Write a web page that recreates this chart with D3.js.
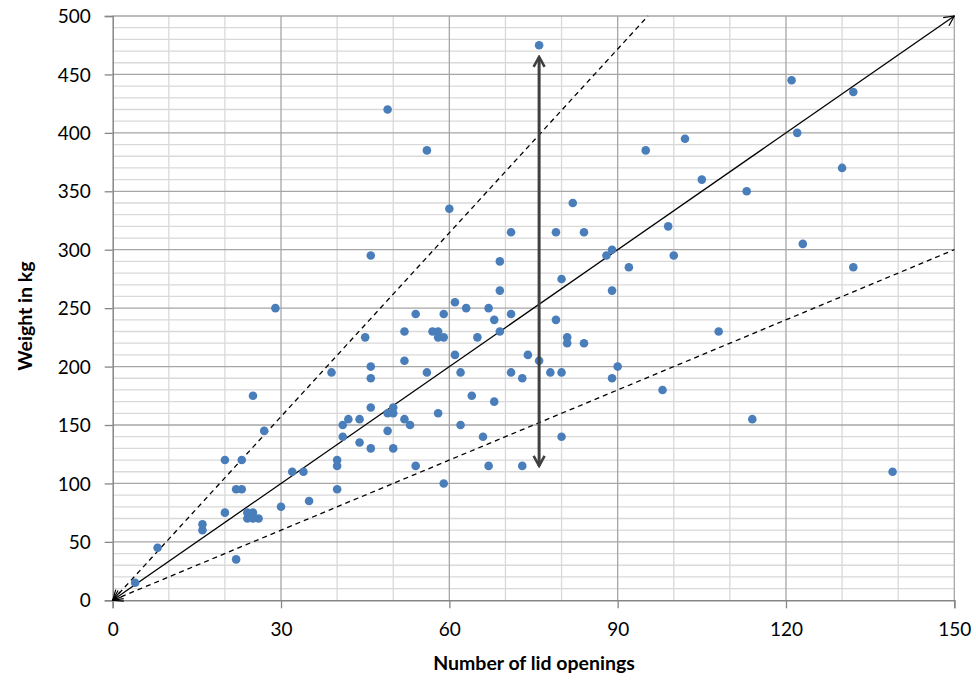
<!DOCTYPE html>
<html>
<head>
<meta charset="utf-8">
<script src="https://cdn.jsdelivr.net/npm/d3@7"></script>
<style>
  body { margin: 0; background: #fff; }
  text { font-family: Lato, "Open Sans", sans-serif; }
</style>
</head>
<body>
<svg id="chart" width="976" height="680"></svg>
<script>
// lid openings vs weight, one entry per dot
var openings = [4, 8, 16, 16, 20, 20, 22, 22, 23, 23, 24, 25, 24, 25, 26, 25, 27, 29, 30, 32,
  34, 35, 39, 40, 40, 40, 41, 41, 42, 44, 44, 45, 46, 46, 46, 46, 46, 49, 49, 49,
  50, 50, 50, 52, 52, 52, 53, 54, 54, 56, 56, 57, 58, 58, 58, 59, 59, 59, 60, 61,
  61, 62, 62, 63, 64, 65, 66, 67, 67, 68, 68, 69, 69, 69, 71, 71, 71, 73, 73, 74,
  76, 76, 78, 79, 79, 80, 80, 80, 81, 81, 82, 84, 84, 88, 89, 89, 89, 90, 92, 95,
  98, 99, 100, 102, 105, 108, 113, 114, 121, 122, 123, 130, 132, 132, 139]
var weights = [15, 45, 65, 60, 120, 75, 35, 95, 95, 120, 75, 75, 70, 70, 70, 175, 145, 250, 80, 110,
  110, 85, 195, 120, 115, 95, 150, 140, 155, 155, 135, 225, 200, 190, 165, 130, 295, 160, 145, 420,
  165, 160, 130, 230, 205, 155, 150, 245, 115, 195, 385, 230, 230, 225, 160, 245, 225, 100, 335, 255,
  210, 195, 150, 250, 175, 225, 140, 250, 115, 240, 170, 290, 265, 230, 315, 245, 195, 190, 115, 210,
  475, 205, 195, 315, 240, 275, 195, 140, 225, 220, 340, 315, 220, 295, 300, 265, 190, 200, 285, 385,
  180, 320, 295, 395, 360, 230, 350, 155, 445, 400, 305, 370, 435, 285, 110]

// reference lines through the origin: [x end, y end]
var midLine = [150, 500]
var upperLine = [95.4, 500]
var lowerLine = [150, 300]
// spread arrow
var spreadX = 76
var spreadRange = [115, 465]

var xTicks = [0, 30, 60, 90, 120, 150]
var yTicks = [0, 50, 100, 150, 200, 250, 300, 350, 400, 450, 500]

var dimensions = {
  width: 976,
  height: 680,
  margin: { top: 16, bottom: 79.7, right: 21.7, left: 112.7 }
}
dimensions.boundedWidth = dimensions.width - dimensions.margin.left - dimensions.margin.right
dimensions.boundedHeight = dimensions.height - dimensions.margin.top - dimensions.margin.bottom

var svg = d3.select("#chart")

var defs = svg.append("defs")
defs.append("marker")
  .attr("id", "open-arrow")
  .attr("viewBox", "0 0 12 12")
  .attr("refX", 11).attr("refY", 6)
  .attr("markerWidth", 12).attr("markerHeight", 12)
  .attr("markerUnits", "userSpaceOnUse")
  .attr("orient", "auto-start-reverse")
  .append("path")
  .attr("d", "M1,1 L11,6 L1,11")
  .attr("fill", "none").attr("stroke", "#000").attr("stroke-width", 1.2)
defs.append("marker")
  .attr("id", "thick-arrow")
  .attr("viewBox", "0 0 14 14")
  .attr("refX", 12).attr("refY", 7)
  .attr("markerWidth", 14).attr("markerHeight", 14)
  .attr("markerUnits", "userSpaceOnUse")
  .attr("orient", "auto-start-reverse")
  .append("path")
  .attr("d", "M2,1.5 L12,7 L2,12.5")
  .attr("fill", "none").attr("stroke", "#404040").attr("stroke-width", 2.6)

var bounds = svg.append("g")
  .attr("transform", "translate(" + dimensions.margin.left + "," + dimensions.margin.top + ")")

var xScale = d3.scaleLinear().domain([0, 150]).range([0, dimensions.boundedWidth])
var yScale = d3.scaleLinear().domain([0, 500]).range([dimensions.boundedHeight, 0])

// minor gridlines
bounds.append("g")
  .selectAll("line")
  .data(d3.range(10, 500, 10).filter(function(d) { return d % 50 != 0 }))
  .join("line")
  .attr("x1", 0).attr("x2", dimensions.boundedWidth)
  .attr("y1", function(d) { return yScale(d) }).attr("y2", function(d) { return yScale(d) })
  .attr("stroke", "#d9d9d9").attr("stroke-width", 1.3)
bounds.append("g")
  .selectAll("line")
  .data(d3.range(10, 150, 10).filter(function(d) { return d % 30 != 0 }))
  .join("line")
  .attr("y1", 0).attr("y2", dimensions.boundedHeight)
  .attr("x1", function(d) { return xScale(d) }).attr("x2", function(d) { return xScale(d) })
  .attr("stroke", "#d9d9d9").attr("stroke-width", 1.3)

// major gridlines
bounds.append("g")
  .selectAll("line")
  .data(yTicks.slice(1))
  .join("line")
  .attr("x1", 0).attr("x2", dimensions.boundedWidth)
  .attr("y1", function(d) { return yScale(d) }).attr("y2", function(d) { return yScale(d) })
  .attr("stroke", "#a6a6a6").attr("stroke-width", 1.3)
bounds.append("g")
  .selectAll("line")
  .data(xTicks.slice(1))
  .join("line")
  .attr("y1", 0).attr("y2", dimensions.boundedHeight)
  .attr("x1", function(d) { return xScale(d) }).attr("x2", function(d) { return xScale(d) })
  .attr("stroke", "#a6a6a6").attr("stroke-width", 1.3)

// axes
var xAxis = bounds.append("g")
  .attr("transform", "translate(0," + dimensions.boundedHeight + ")")
  .call(d3.axisBottom(xScale).tickValues(xTicks).tickSize(8).tickPadding(14))
var yAxis = bounds.append("g")
  .call(d3.axisLeft(yScale).tickValues(yTicks).tickSize(8).tickPadding(14))
;[xAxis, yAxis].forEach(function(a) {
  a.select(".domain").attr("stroke", "#868686").attr("stroke-width", 1.5)
  a.selectAll(".tick line").attr("stroke", "#868686").attr("stroke-width", 1.3)
  a.selectAll("text").attr("font-size", 19).attr("fill", "#000").attr("font-family", "Lato, sans-serif")
})
yAxis.selectAll("text").attr("dy", "0.35em")

// reference lines
bounds.append("line")
  .attr("x1", xScale(0)).attr("y1", yScale(0))
  .attr("x2", xScale(midLine[0])).attr("y2", yScale(midLine[1]))
  .attr("stroke", "#000").attr("stroke-width", 1.3)
  .attr("marker-start", "url(#open-arrow)").attr("marker-end", "url(#open-arrow)")
;[upperLine, lowerLine].forEach(function(l) {
  bounds.append("line")
    .attr("x1", xScale(0)).attr("y1", yScale(0))
    .attr("x2", xScale(l[0])).attr("y2", yScale(l[1]))
    .attr("stroke", "#000").attr("stroke-width", 1.3)
    .attr("stroke-dasharray", "5,4")
    .attr("marker-start", "url(#open-arrow)")
})

// points
bounds.append("g")
  .selectAll("circle")
  .data(openings)
  .join("circle")
  .attr("cx", function(d) { return xScale(d) })
  .attr("cy", function(d, i) { return yScale(weights[i]) })
  .attr("r", 4.3)
  .attr("fill", "#4a7ebb")

// spread arrow
bounds.append("line")
  .attr("x1", xScale(spreadX)).attr("x2", xScale(spreadX))
  .attr("y1", yScale(spreadRange[0])).attr("y2", yScale(spreadRange[1]))
  .attr("stroke", "#404040").attr("stroke-width", 3)
  .attr("marker-start", "url(#thick-arrow)").attr("marker-end", "url(#thick-arrow)")

// titles
svg.append("text")
  .attr("x", 534)
  .attr("y", 670)
  .attr("text-anchor", "middle")
  .attr("font-size", 19.5).attr("font-weight", "bold")
  .text("Number of lid openings")
svg.append("text")
  .attr("transform", "translate(32," + (dimensions.margin.top + dimensions.boundedHeight / 2 + 8) + ") rotate(-90)")
  .attr("text-anchor", "middle")
  .attr("font-size", 19.5).attr("font-weight", "bold")
  .text("Weight in kg")
</script>
</body>
</html>
